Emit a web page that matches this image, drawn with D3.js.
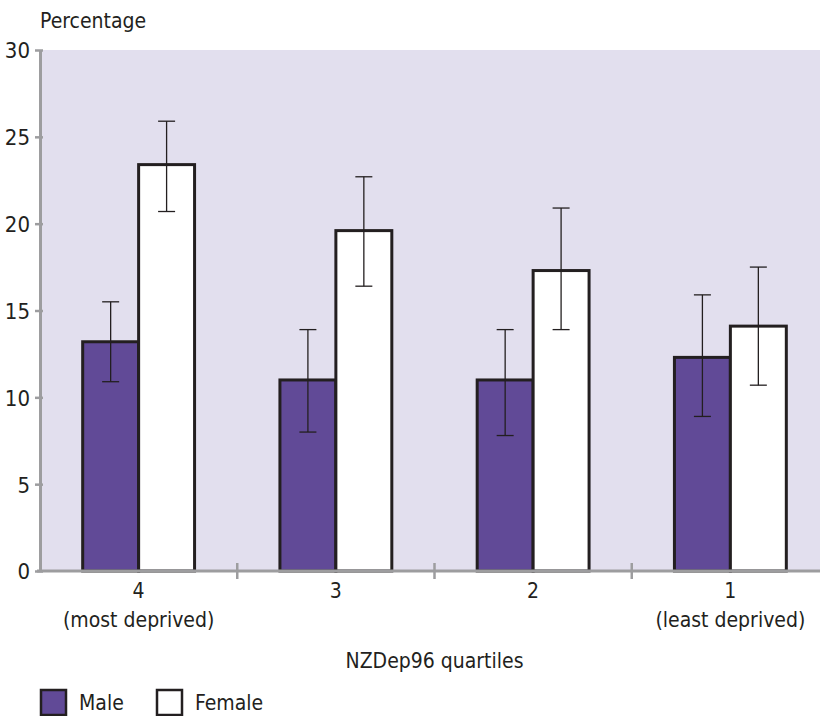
<!DOCTYPE html>
<html>
<head>
<meta charset="utf-8">
<script src="https://cdn.jsdelivr.net/npm/d3@7"></script>
<style>
  html, body { margin: 0; padding: 0; background: #fff; }
  svg { display: block; }
  text { font-family: "Liberation Sans Narrow", "DejaVu Sans Condensed", "Roboto", sans-serif; fill: #231f20; }
</style>
</head>
<body>
<svg id="chart" width="820" height="716"></svg>
<script>
const categories = ["4", "3", "2", "1"];
const categorySubLabels = ["(most deprived)", "", "", "(least deprived)"];
const seriesNames = ["Male", "Female"];
const maleValues = [13.2, 11.0, 11.0, 12.3];
const maleLower = [10.9, 8.0, 7.8, 8.9];
const maleUpper = [15.5, 13.9, 13.9, 15.9];
const femaleValues = [23.4, 19.6, 17.3, 14.1];
const femaleLower = [20.7, 16.4, 13.9, 10.7];
const femaleUpper = [25.9, 22.7, 20.9, 17.5];
const yTicks = [0, 5, 10, 15, 20, 25, 30];

const svg = d3.select("#chart");
const margin = { left: 40, top: 50, bottom: 571, right: 829 };

const x = d3.scaleBand().domain(categories).range([margin.left, margin.right]).paddingInner(0).paddingOuter(0);
const xSub = d3.scaleBand().domain(seriesNames).range([0, x.bandwidth()]).paddingInner(0).paddingOuter(0.763);
const y = d3.scaleLinear().domain([0, 30]).range([margin.bottom, margin.top]);

// background
svg.append("rect")
  .attr("x", margin.left).attr("y", margin.top)
  .attr("width", 820 - margin.left).attr("height", margin.bottom - margin.top)
  .attr("fill", "#e2dfee");

const fills = { Male: "#614a97", Female: "#ffffff" };
const data = categories.map((c, i) => ({
  cat: c,
  series: [
    { name: "Male", v: maleValues[i], lo: maleLower[i], hi: maleUpper[i] },
    { name: "Female", v: femaleValues[i], lo: femaleLower[i], hi: femaleUpper[i] }
  ]
}));

const groups = svg.selectAll("g.grp").data(data).enter().append("g")
  .attr("class", "grp")
  .attr("transform", d => `translate(${x(d.cat)},0)`);

groups.selectAll("rect.bar").data(d => d.series).enter().append("rect")
  .attr("class", "bar")
  .attr("x", d => xSub(d.name))
  .attr("y", d => y(d.v))
  .attr("width", xSub.bandwidth())
  .attr("height", d => y(0) - y(d.v))
  .attr("fill", d => fills[d.name])
  .attr("stroke", "#231f20")
  .attr("stroke-width", 3);

// error bars
const cap = 8.5;
const eb = groups.selectAll("g.eb").data(d => d.series).enter().append("g").attr("class", "eb")
  .attr("transform", d => `translate(${xSub(d.name) + xSub.bandwidth() / 2},0)`);
eb.append("line").attr("x1", 0).attr("x2", 0).attr("y1", d => y(d.lo)).attr("y2", d => y(d.hi))
  .attr("stroke", "#231f20").attr("stroke-width", 1.3);
eb.append("line").attr("x1", -cap).attr("x2", cap).attr("y1", d => y(d.hi)).attr("y2", d => y(d.hi))
  .attr("stroke", "#231f20").attr("stroke-width", 1.3);
eb.append("line").attr("x1", -cap).attr("x2", cap).attr("y1", d => y(d.lo)).attr("y2", d => y(d.lo))
  .attr("stroke", "#231f20").attr("stroke-width", 1.3);

// y axis
const yAxis = d3.axisLeft(y).tickValues(yTicks).tickSize(5).tickSizeOuter(0).tickPadding(5);
const gy = svg.append("g").attr("transform", `translate(${margin.left},0)`).call(yAxis);
gy.select(".domain").attr("stroke", "#9d9d9f").attr("stroke-width", 3);
gy.selectAll(".tick line").attr("stroke", "#9d9d9f").attr("stroke-width", 2.5).attr("x2", -5).attr("x1", 3);
gy.selectAll(".tick text").style("font-size", "22px").attr("fill", "#231f20").attr("dy", "0.36em");

// x axis line
svg.append("line").attr("x1", margin.left - 3).attr("x2", 820).attr("y1", y(0)).attr("y2", y(0))
  .attr("stroke", "#9d9d9f").attr("stroke-width", 3);
// separators
const seps = categories.slice(1).map(c => x(c));
svg.selectAll("line.sep").data(seps).enter().append("line")
  .attr("x1", d => d).attr("x2", d => d).attr("y1", y(0) - 8).attr("y2", y(0) + 8)
  .attr("stroke", "#9d9d9f").attr("stroke-width", 2.5);

// category labels
svg.selectAll("text.cat").data(categories).enter().append("text")
  .attr("x", d => x(d) + x.bandwidth() / 2).attr("y", 598)
  .attr("text-anchor", "middle").style("font-size", "21px").text(d => d);
svg.selectAll("text.sub").data(categories).enter().append("text")
  .attr("x", d => x(d) + x.bandwidth() / 2).attr("y", 627)
  .attr("text-anchor", "middle").style("font-size", "21px").text((d, i) => categorySubLabels[i]);

// axis titles
svg.append("text").attr("x", 40).attr("y", 28).style("font-size", "21px").text("Percentage");
svg.append("text").attr("x", (margin.left + margin.right) / 2).attr("y", 668)
  .attr("text-anchor", "middle").style("font-size", "21px").text("NZDep96 quartiles");

// legend
const legX = [41, 157];
const leg = svg.selectAll("g.leg").data(seriesNames).enter().append("g")
  .attr("transform", (d, i) => `translate(${legX[i]},690)`);
leg.append("rect").attr("width", 25).attr("height", 25)
  .attr("fill", d => fills[d]).attr("stroke", "#231f20").attr("stroke-width", 2.5);
leg.append("text").attr("x", 38).attr("y", 20).style("font-size", "21px").text(d => d);
</script>
</body>
</html>
